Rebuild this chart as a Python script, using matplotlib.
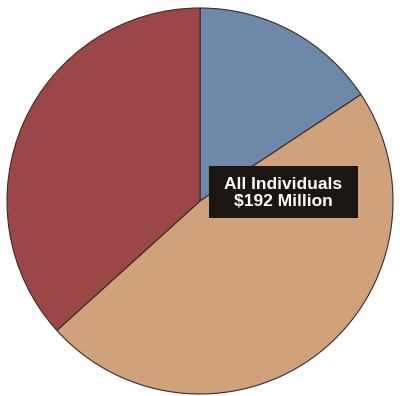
import matplotlib.pyplot as plt
from matplotlib.patches import Rectangle

# Slice shares (percent), clockwise from 12 o'clock
labels = ["Blue", "Tan", "Red"]
shares = [15.7, 47.6, 36.7]
colors = ["#6d88a8", "#d0a27c", "#9b4747"]

fig = plt.figure(figsize=(4.03, 3.96), dpi=100)
ax = fig.add_axes([0.0, 0.0, 1.0, 1.0])

ax.pie(shares, colors=colors, startangle=90, counterclock=False,
       radius=1.0, center=(0, 0),
       wedgeprops=dict(edgecolor="#3a2a2a", linewidth=0.8))

# Axes limits so the pie sits like in the scan (slightly cut at the bottom)
r_px = 193.0
cx, cy = 200.0, 201.0
ax.set_xlim(-cx / r_px, (403 - cx) / r_px)
ax.set_ylim(-(396 - cy) / r_px, cy / r_px)
ax.set_aspect("equal")
ax.axis("off")

# dark label box
def px(x, y):
    return (x - cx) / r_px, (cy - y) / r_px

x0, y0 = px(209, 218)
ax.add_patch(Rectangle((x0, y0), 149 / r_px, 52 / r_px,
                       facecolor="#1c1612", edgecolor="none", zorder=3))

tx, ty = px(283.5, 193)
ax.text(tx, ty, "All Individuals\n$192 Million",
        ha="center", va="center", color="white", fontsize=12.5,
        fontweight="bold", family="Liberation Sans", linespacing=1.2,
        zorder=4)

fig.savefig("out.png", dpi=100)
